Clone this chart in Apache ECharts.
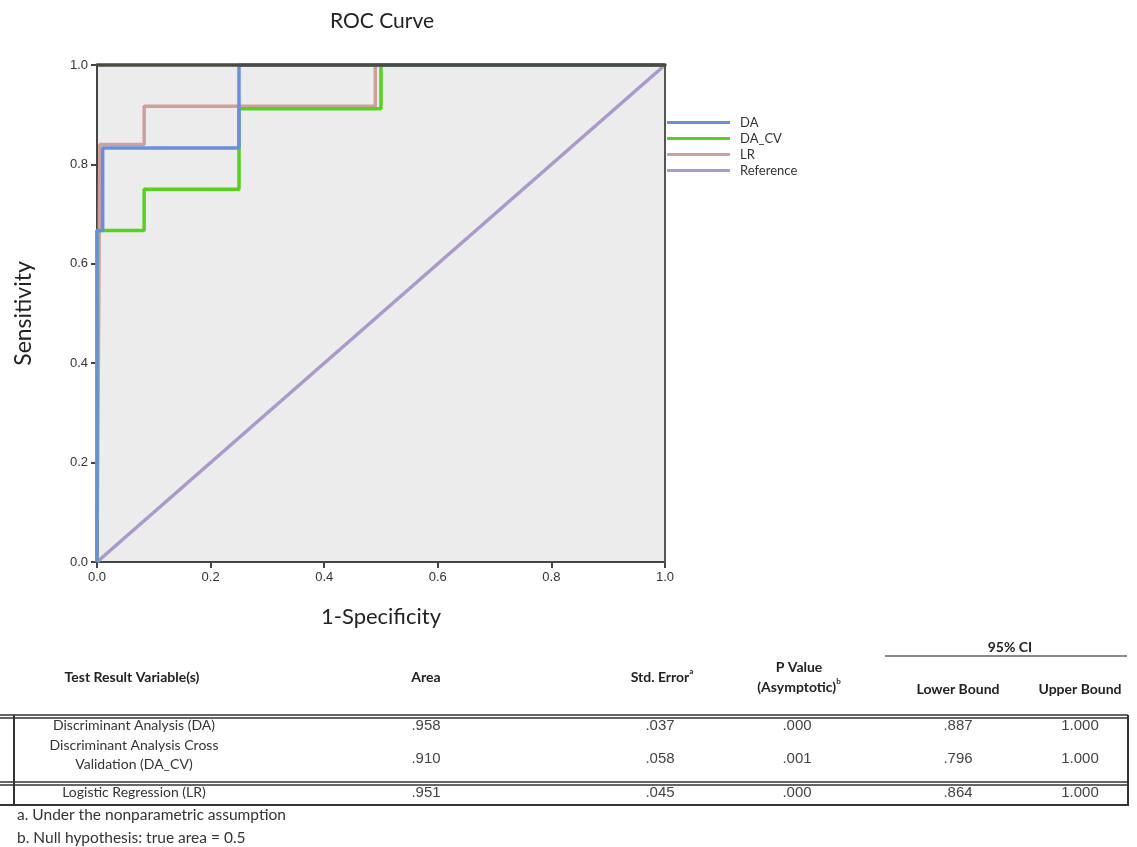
<!DOCTYPE html>
<html>
<head>
<meta charset="utf-8">
<script src="https://cdn.jsdelivr.net/npm/echarts@6/dist/echarts.min.js"></script>
<style>
  html, body { margin: 0; padding: 0; background: #fff; }
  #app { width: 1137px; height: 847px; }
</style>
</head>
<body>
<div id="app"></div>
<script>
// ROC curve points (1-specificity, sensitivity)
const daFpr = [0, 0, 0.01, 0.01, 0.25, 0.25, 1]
const daTpr = [0, 0.667, 0.667, 0.833, 0.833, 1, 1]
const dacvFpr = [0, 0, 0.083, 0.083, 0.25, 0.25, 0.5, 0.5, 1]
const dacvTpr = [0, 0.667, 0.667, 0.75, 0.75, 0.912, 0.912, 1, 1]
const lrFpr = [0, 0.005, 0.083, 0.083, 0.49, 0.49, 1]
const lrTpr = [0, 0.84, 0.84, 0.917, 0.917, 1, 1]
const refFpr = [0, 1]
const refTpr = [0, 1]

// table under the chart
const rowNames = ['Discriminant Analysis (DA)', 'Discriminant Analysis Cross\nValidation (DA_CV)', 'Logistic Regression (LR)']
const areas = ['.958', '.910', '.951']
const stdErrors = ['.037', '.058', '.045']
const pValues = ['.000', '.001', '.000']
const lowerBounds = ['.887', '.796', '.864']
const upperBounds = ['1.000', '1.000', '1.000']
const footnotes = ['a. Under the nonparametric assumption', 'b. Null hypothesis: true area = 0.5']

const pts = (xs, ys) => xs.map((x, i) => [x, ys[i]])

const app = document.getElementById('app')
const chart = echarts.init(app)

const sansC = 'Lato, "Open Sans", sans-serif'
const sansA = '"Liberation Sans", Arial, sans-serif'

function txt(x, y, text, opts) {
  opts = opts || {}
  return {
    type: 'text',
    x: x,
    y: y,
    style: {
      text: text,
      font: opts.font || ('12px ' + sansA),
      fill: opts.color || '#333',
      textAlign: opts.align || 'center',
      textVerticalAlign: 'middle',
      align: opts.align || 'center',
      verticalAlign: 'middle',
      lineHeight: opts.lineHeight || 19,
      rich: opts.rich
    }
  }
}
function hline(x1, x2, y, w, c) {
  return { type: 'line', shape: { x1: x1, y1: y, x2: x2, y2: y }, style: { stroke: c || '#333', lineWidth: w || 1.5 } }
}
function vline(x, y1, y2, w) {
  return { type: 'line', shape: { x1: x, y1: y1, x2: x, y2: y2 }, style: { stroke: '#333', lineWidth: w || 2 } }
}

const headFont = 'bold 14px ' + sansC
const bodyFont = '14px ' + sansC
const numFont = '15px ' + sansA
const supRich = {
  n: { font: headFont, fill: '#222' },
  s: { font: 'bold 8px ' + sansC, fill: '#222', verticalAlign: 'top', padding: [0, 0, 7, 0] }
}

const colX = [134, 426, 660, 797, 958, 1080]
const rowY = [725, 755, 792]

const table = [
  txt(132, 677, 'Test Result Variable(s)', { font: headFont, color: '#222' }),
  txt(426, 677, 'Area', { font: headFont, color: '#222' }),
  txt(662, 677, '{n|Std. Error}{s|a}', { font: headFont, color: '#222', rich: supRich }),
  txt(799, 667, 'P Value', { font: headFont, color: '#222' }),
  txt(799, 687, '{n|(Asymptotic)}{s|b}', { font: headFont, color: '#222', rich: supRich }),
  txt(1010, 647, '95% CI', { font: headFont, color: '#222' }),
  hline(885, 1127, 656, 2, '#888'),
  txt(958, 689, 'Lower Bound', { font: headFont, color: '#222' }),
  txt(1080, 689, 'Upper Bound', { font: headFont, color: '#222' }),
  hline(0, 1128, 715, 1.5), hline(0, 1128, 718, 1.5),
  hline(0, 1128, 782, 1.5), hline(0, 1128, 785, 1.5),
  hline(0, 1128, 805, 2),
  vline(14, 715, 806), vline(1128, 715, 806)
]
rowNames.forEach((name, i) => {
  table.push(txt(colX[0], rowY[i], name, { font: bodyFont, color: '#333' }))
  const vals = [areas[i], stdErrors[i], pValues[i], lowerBounds[i], upperBounds[i]]
  vals.forEach((v, j) => {
    table.push(txt(colX[j + 1], i === 1 ? 759 : rowY[i] + 1, v, { font: numFont, color: '#444' }))
  })
})
footnotes.forEach((f, i) => {
  table.push(txt(17, 815 + i * 23, f, { font: '15.5px ' + sansC, color: '#333', align: 'left' }))
})

const lineSeries = (name, data, color, z) => ({
  name: name,
  type: 'line',
  data: data,
  showSymbol: false,
  symbol: 'none',
  z: z,
  lineStyle: { color: color, width: 3.5 },
  itemStyle: { color: color },
  animation: false
})

const tickLabel = { fontFamily: sansA, fontSize: 13, color: '#333', margin: 9, formatter: v => v.toFixed(1) }
const darkLine = { show: true, lineStyle: { color: '#444', width: 2 } }

chart.setOption({
  backgroundColor: '#fff',
  animation: false,
  title: {
    text: 'ROC Curve',
    left: 377,
    top: 6,
    textAlign: 'center',
    textStyle: { fontFamily: sansC, fontSize: 21, fontWeight: 'normal', color: '#222' }
  },
  grid: {
    left: 97, top: 65, width: 568, height: 497,
    show: true,
    backgroundColor: '#ececec',
    borderWidth: 0
  },
  legend: {
    orient: 'vertical',
    left: 667,
    top: 116,
    padding: 0,
    itemWidth: 63,
    itemHeight: 3,
    itemGap: 3,
    icon: 'rect',
    textStyle: { fontFamily: sansC, fontSize: 13, color: '#333', padding: [0, 0, 0, 5] },
    data: ['DA', 'DA_CV', 'LR', 'Reference']
  },
  xAxis: [{
    type: 'value',
    min: 0, max: 1, interval: 0.2,
    name: '1-Specificity',
    nameLocation: 'middle',
    nameGap: 44,
    nameTextStyle: { fontFamily: sansC, fontSize: 22, color: '#222' },
    splitLine: { show: false },
    axisLine: darkLine,
    axisTick: { show: true, length: 6, lineStyle: { color: '#444', width: 2 } },
    axisLabel: tickLabel
  }, {
    type: 'value',
    position: 'top',
    min: 0, max: 1,
    z: 10,
    splitLine: { show: false },
    axisLine: { show: true, onZero: false, lineStyle: { color: '#4a4a40', width: 3.5 } },
    axisTick: { show: false },
    axisLabel: { show: false }
  }],
  yAxis: [{
    type: 'value',
    min: 0, max: 1, interval: 0.2,
    name: 'Sensitivity',
    nameLocation: 'middle',
    nameGap: 62,
    nameTextStyle: { fontFamily: sansC, fontSize: 23, color: '#222' },
    splitLine: { show: false },
    axisLine: darkLine,
    axisTick: { show: true, length: 6, lineStyle: { color: '#444', width: 2 } },
    axisLabel: tickLabel
  }, {
    type: 'value',
    position: 'right',
    min: 0, max: 1,
    z: 10,
    splitLine: { show: false },
    axisLine: { show: true, onZero: false, lineStyle: { color: '#555', width: 2 } },
    axisTick: { show: false },
    axisLabel: { show: false }
  }],
  series: [
    lineSeries('Reference', pts(refFpr, refTpr), '#ab98cc', 2),
    lineSeries('LR', pts(lrFpr, lrTpr), '#cf9f99', 3),
    lineSeries('DA_CV', pts(dacvFpr, dacvTpr), '#55d11f', 4),
    lineSeries('DA', pts(daFpr, daTpr), '#6a8edb', 5)
  ],
  graphic: table
})
</script>
</body>
</html>
